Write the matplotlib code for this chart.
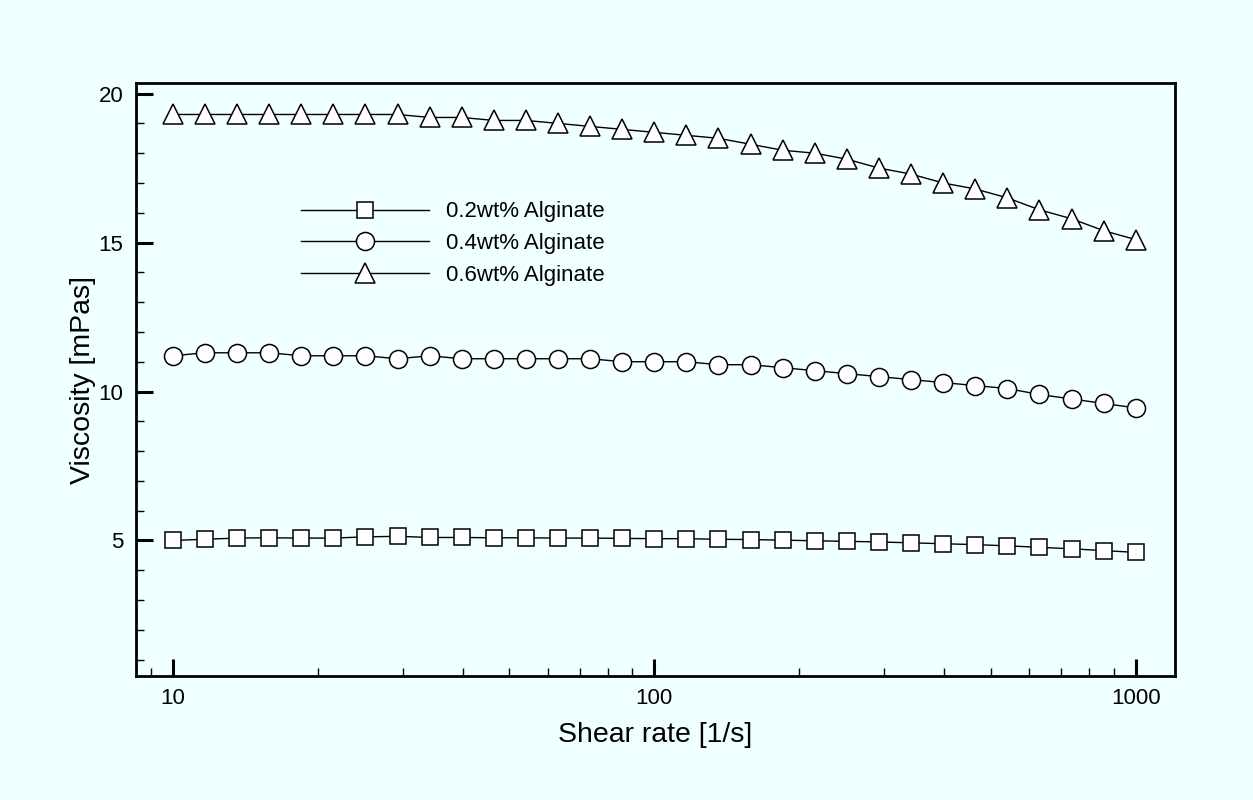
import matplotlib
matplotlib.use("Agg")
import numpy as np
from matplotlib import pyplot as plt
from matplotlib.ticker import FixedLocator, NullFormatter

plt.rcParams['font.family'] = ['Liberation Sans', 'DejaVu Sans']

# shear rate, 15 points per decade from 10 to 1000 1/s
shear_rate = [10.0, 11.66, 13.59, 15.85, 18.48, 21.54, 25.12, 29.29, 34.15, 39.81,
              46.42, 54.12, 63.10, 73.56, 85.77, 100.0, 116.6, 135.9, 158.5, 184.8,
              215.4, 251.2, 292.9, 341.5, 398.1, 464.2, 541.2, 631.0, 735.6, 857.7, 1000.0]

visc_02 = [5.00, 5.04, 5.08, 5.09, 5.08, 5.08, 5.12, 5.14, 5.10, 5.10,
           5.09, 5.09, 5.08, 5.08, 5.07, 5.06, 5.06, 5.04, 5.03, 5.01,
           4.99, 4.97, 4.95, 4.92, 4.89, 4.86, 4.82, 4.77, 4.72, 4.66, 4.60]

visc_04 = [11.2, 11.3, 11.3, 11.3, 11.2, 11.2, 11.2, 11.1, 11.2, 11.1,
           11.1, 11.1, 11.1, 11.1, 11.0, 11.0, 11.0, 10.9, 10.9, 10.8,
           10.7, 10.6, 10.5, 10.4, 10.3, 10.2, 10.1, 9.9, 9.75, 9.6, 9.45]

visc_06 = [19.3, 19.3, 19.3, 19.3, 19.3, 19.3, 19.3, 19.3, 19.2, 19.2,
           19.1, 19.1, 19.0, 18.9, 18.8, 18.7, 18.6, 18.5, 18.3, 18.1,
           18.0, 17.8, 17.5, 17.3, 17.0, 16.8, 16.5, 16.1, 15.8, 15.4, 15.1]

labels = ['0.2wt% Alginate', '0.4wt% Alginate', '0.6wt% Alginate']

bg = '#F0FFFF'
fig = plt.figure(figsize=(12.53, 8), dpi=100, facecolor=bg)
ax = fig.add_axes([0.1085, 0.155, 0.829, 0.741], facecolor=bg)

style = dict(color='black', lw=1.0, mfc='white', mec='black', mew=1.1)
ax.plot(shear_rate, visc_02, marker='s', ms=11.5, label=labels[0], **style)
ax.plot(shear_rate, visc_04, marker='o', ms=13, label=labels[1], **style)
ax.plot(shear_rate, visc_06, marker='^', ms=14, label=labels[2], **style)

ax.set_xscale('log')
ax.set_xlim(8.38, 1205)
ax.set_ylim(0.45, 20.35)

ax.xaxis.set_major_locator(FixedLocator([10, 100, 1000]))
ax.set_xticklabels(['10', '100', '1000'])
minor_x = [9] + [m * 10 for m in range(2, 10)] + [m * 100 for m in range(2, 10)]
ax.xaxis.set_minor_locator(FixedLocator(minor_x))
ax.xaxis.set_minor_formatter(NullFormatter())
ax.yaxis.set_major_locator(FixedLocator([5, 10, 15, 20]))
ax.yaxis.set_minor_locator(FixedLocator([v for v in range(1, 21) if v % 5 != 0]))

ax.tick_params(which='both', direction='in', top=False, right=False, labelsize=16, pad=9)
ax.tick_params(which='major', length=12, width=2.2)
ax.tick_params(which='minor', length=6, width=1.0)

for s in ax.spines.values():
    s.set_linewidth(2.0)

ax.set_xlabel('Shear rate [1/s]', fontsize=20.5, labelpad=9)
ax.set_ylabel('Viscosity [mPas]', fontsize=20.5, labelpad=2)

ax.legend(loc='upper left', bbox_to_anchor=(301 / 1253, 1 - 201.5 / 800),
          bbox_transform=fig.transFigure, frameon=False, fontsize=16,
          handlelength=5.76, handletextpad=0.77, labelspacing=0.48,
          borderpad=0, borderaxespad=0)

fig.savefig('out.png', dpi=100, facecolor=bg)
